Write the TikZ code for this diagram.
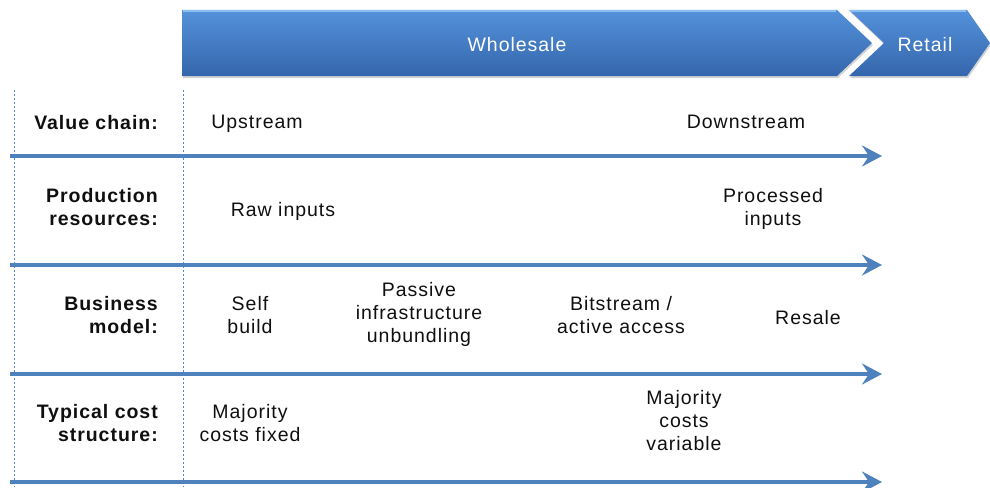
\documentclass[tikz,border=0pt]{standalone}
\usepackage{fontspec}
\setmainfont{Liberation Sans}[LetterSpace=5]
\usetikzlibrary{arrows.meta,shadows}
\definecolor{arrowblue}{RGB}{79,129,189}
\definecolor{dotblue}{RGB}{80,135,210}
\definecolor{topblue}{RGB}{84,146,218}
\definecolor{botblue}{RGB}{52,102,172}
\definecolor{hiblue}{RGB}{140,190,240}
\definecolor{txt}{RGB}{15,15,15}
\tikzset{
  lbl/.style={anchor=north east, align=right, inner sep=0pt, text=txt,
    font=\fontsize{19.5}{23}\selectfont\bfseries},
  cell/.style={anchor=north, align=center, inner sep=0pt, text=txt,
    font=\fontsize{19.5}{23}\selectfont},
  head/.style={anchor=north, inner sep=0pt, text=white,
    font=\fontsize{19.5}{23}\selectfont},
  flow/.style={draw=arrowblue, line width=3.2pt,
    -{Stealth[length=20pt,width=21pt,inset=7pt]}},
  vdot/.style={draw=dotblue, line width=1pt, dash pattern=on 2pt off 2pt},
  band/.style={top color=topblue, bottom color=botblue, draw=none,
    drop shadow={opacity=0.35, shadow xshift=1pt, shadow yshift=-2pt}},
}
\begin{document}
\begin{tikzpicture}[x=1pt,y=-1pt]
\useasboundingbox (0,0) rectangle (990,487);
% header chevrons
\path[band] (182,10) -- (837,10) -- (872,43) -- (837,76) -- (182,76) -- cycle;
\path[band] (849,10) -- (967,10) -- (990,43) -- (967,76) -- (849,76) -- (884,43) -- cycle;
\draw[hiblue, line width=1.2pt] (183,11) -- (836,11);
\draw[hiblue, line width=1.2pt] (850,11) -- (966,11);
\node[head] (wholesale) at (517,37) {Wholesale};
\node[head] (retail) at (925,37) {Retail};
% dotted verticals
\coordinate (v1t) at (14,90);  \coordinate (v1b) at (14,487);
\coordinate (v2t) at (183,90); \coordinate (v2b) at (183,487);
\draw[vdot] (v1t) -- (v1b);
\draw[vdot] (v2t) -- (v2b);
% arrows
\coordinate (a1s) at (10,156); \coordinate (a1e) at (882,156);
\coordinate (a2s) at (10,265); \coordinate (a2e) at (882,265);
\coordinate (a3s) at (10,374); \coordinate (a3e) at (882,374);
\coordinate (a4s) at (10,482); \coordinate (a4e) at (882,482);
\draw[flow] (a1s) -- (a1e);
\draw[flow] (a2s) -- (a2e);
\draw[flow] (a3s) -- (a3e);
\draw[flow] (a4s) -- (a4e);
% row labels
\node[lbl] (l1) at (158,115) {Value chain:};
\node[lbl] (l2) at (158,188) {Production\\resources:};
\node[lbl] (l3) at (158,296) {Business\\model:};
\node[lbl] (l4) at (158,404) {Typical cost\\structure:};
% cells
\node[cell] (up) at (257,115) {Upstream};
\node[cell] (down) at (746,115) {Downstream};
\node[cell] (raw) at (283,202) {Raw inputs};
\node[cell] (proc) at (773,188) {Processed\\inputs};
\node[cell] (self) at (250,296) {Self\\build};
\node[cell] (pass) at (419,282) {Passive\\infrastructure\\unbundling};
\node[cell] (bit) at (621,296) {Bitstream /\\active access};
\node[cell] (resale) at (808,310) {Resale};
\node[cell] (fixed) at (250,404) {Majority\\costs fixed};
\node[cell] (var) at (684,390) {Majority\\costs\\variable};
\end{tikzpicture}
\end{document}
